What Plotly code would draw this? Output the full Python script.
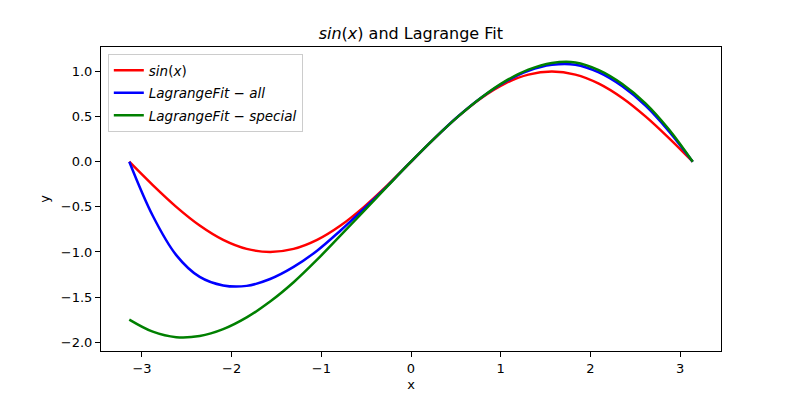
import plotly.graph_objects as go

# x sample positions (-pi .. pi)
x_vals = [-3.1416, -2.8798, -2.6180, -2.3562, -2.0944, -1.8326, -1.5708, -1.3090,
          -1.0472, -0.7854, -0.5236, -0.2618, 0.0, 0.2618, 0.5236, 0.7854,
          1.0472, 1.3090, 1.5708, 1.8326, 2.0944, 2.3562, 2.6180, 2.8798, 3.1416]

sin_vals = [0.0, -0.259, -0.5, -0.707, -0.866, -0.966, -1.0, -0.966,
            -0.866, -0.707, -0.5, -0.259, 0.0, 0.259, 0.5, 0.707,
            0.866, 0.966, 1.0, 0.966, 0.866, 0.707, 0.5, 0.259, 0.0]

fit_all = [0.0, -0.599, -1.035, -1.277, -1.371, -1.376, -1.30, -1.166,
           -0.986, -0.762, -0.52, -0.267, 0.0, 0.259, 0.501, 0.712,
           0.884, 1.008, 1.075, 1.076, 0.991, 0.837, 0.62, 0.334, 0.0]

fit_special = [-1.75, -1.884, -1.945, -1.932, -1.856, -1.726, -1.55, -1.336,
               -1.086, -0.817, -0.545, -0.271, 0.0, 0.259, 0.50, 0.713,
               0.891, 1.021, 1.095, 1.101, 1.016, 0.862, 0.645, 0.354, 0.0]

series_names = ["<i>sin</i>(<i>x</i>)",
                "<i>LagrangeFit</i> − <i>all</i>",
                "<i>LagrangeFit</i> − <i>special</i>"]
series_vals = [sin_vals, fit_all, fit_special]
series_colors = ["#ff0000", "#0000ff", "#008000"]

x_ticks = [-3, -2, -1, 0, 1, 2, 3]
y_ticks = [-2.0, -1.5, -1.0, -0.5, 0.0, 0.5, 1.0]

fig = go.Figure()
for i, (name, vals, col) in enumerate(zip(series_names, series_vals, series_colors)):
    fig.add_trace(go.Scatter(x=x_vals, y=vals, mode="lines", name=name,
                             legendgroup=str(i),
                             line=dict(color=col, width=2.5, shape="spline", smoothing=1.0)))

font = "DejaVu Sans, sans-serif"
axis_common = dict(showline=True, linecolor="black", linewidth=1, mirror=True,
                   ticks="outside", ticklen=5, tickcolor="black", tickwidth=1,
                   showgrid=False, zeroline=False, automargin=False,
                   tickfont=dict(family=font, size=13, color="black"))

fig.update_layout(
    width=800, height=394,
    margin=dict(l=101, r=79, t=47, b=43),
    paper_bgcolor="white", plot_bgcolor="white",
    font=dict(family=font, color="black"),
    title=dict(text="<i>sin</i>(<i>x</i>) and Lagrange Fit",
               x=(101 + 720.7) / 2 / 800, xanchor="center",
               y=1 - 33 / 394, yanchor="middle",
               font=dict(family=font, size=16, color="black")),
    xaxis=dict(range=[-3.457, 3.457], tickvals=x_ticks,
               title=dict(text="x", font=dict(family=font, size=13), standoff=5),
               **axis_common),
    yaxis=dict(range=[-2.098, 1.272], tickvals=y_ticks, tickformat=".1f",
               title=dict(text="y", font=dict(family=font, size=13), standoff=8),
               **axis_common),
    legend=dict(x=0.011, y=0.977, xanchor="left", yanchor="top",
                bgcolor="rgba(255,255,255,0.8)", bordercolor="#cccccc", borderwidth=1,
                font=dict(family=font, size=13.5, color="black"),
                tracegroupgap=2, traceorder="grouped"),
    showlegend=True,
)

fig.write_html("out.html",
               config={"displayModeBar": False},
               post_script="document.body.style.margin='0';document.body.style.overflow='hidden';")
